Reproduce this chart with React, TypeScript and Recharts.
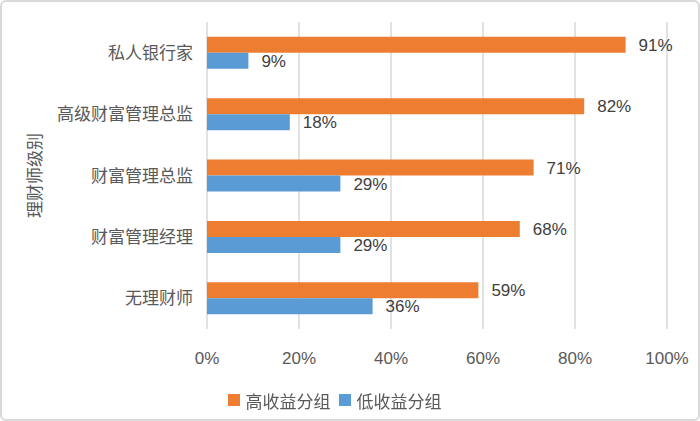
import React from 'react';
import { BarChart, Bar, XAxis, YAxis, CartesianGrid, Legend, LabelList } from 'recharts';

const levels = ['私人银行家', '高级财富管理总监', '财富管理总监', '财富管理经理', '无理财师'];
const highGroup = [91, 82, 71, 68, 59];
const lowGroup = [9, 18, 29, 29, 36];
const xTicks = [0, 20, 40, 60, 80, 100];

const HIGH = '高收益分组';
const LOW = '低收益分组';
const FONT = "'Liberation Sans', 'Noto Sans CJK SC', sans-serif";

const chartData = levels.map((name, i) => ({
    name,
    [HIGH]: highGroup[i],
    [LOW]: lowGroup[i],
}));

const LegendContent = () => (
    <div style={{ display: 'flex', justifyContent: 'center', alignItems: 'center', height: 30, fontFamily: FONT, fontSize: 17, color: '#595959' }}>
        <span style={{ width: 12, height: 12, background: '#ED7D31', display: 'inline-block', marginRight: 6 }} />
        <span style={{ marginRight: 8 }}>{HIGH}</span>
        <span style={{ width: 12, height: 12, background: '#5B9BD5', display: 'inline-block', marginRight: 6 }} />
        <span>{LOW}</span>
    </div>
);

const AxisTitle = (props: any) => {
    const { viewBox } = props;
    const cx = 33;
    const cy = viewBox.y + viewBox.height / 2;
    return (
        <text x={cx} y={cy} transform={`rotate(-90, ${cx}, ${cy})`} textAnchor="middle" dominantBaseline="central"
            fill="#595959" fontSize={17} fontFamily={FONT}>
            理财师级别
        </text>
    );
};

const App: React.FC = () => {
    return (
        <div style={{ position: 'fixed', top: 0, left: 0, width: 700, height: 421, boxSizing: 'border-box', border: '2px solid #d9d9d9', borderRadius: 6, background: '#fff' }}>
            <BarChart
                width={696}
                height={417}
                data={chartData}
                layout="vertical"
                barCategoryGap="24%"
                barGap={0}
                margin={{ top: 20, right: 31, left: 0, bottom: 4 }}
                style={{ fontFamily: FONT }}
            >
                <CartesianGrid horizontal={false} stroke="#d9d9d9" strokeWidth={1.5} />
                <XAxis
                    type="number"
                    domain={[0, 100]}
                    ticks={xTicks}
                    tickFormatter={(v) => `${v}%`}
                    axisLine={false}
                    tickLine={false}
                    tickSize={0}
                    tickMargin={23}
                    height={56}
                    tick={{ fill: '#595959', fontSize: 17 }}
                />
                <YAxis
                    type="category"
                    dataKey="name"
                    width={205}
                    axisLine={false}
                    tickLine={false}
                    tickSize={0}
                    tickMargin={14}
                    tick={{ fill: '#595959', fontSize: 17 }}
                    label={<AxisTitle />}
                />
                <Legend verticalAlign="bottom" content={<LegendContent />} wrapperStyle={{ height: 30 }} />
                <Bar dataKey={HIGH} fill="#ED7D31" isAnimationActive={false}>
                    <LabelList dataKey={HIGH} position="right" offset={13} formatter={(v: any) => `${v}%`}
                        fill="#404040" fontSize={17} />
                </Bar>
                <Bar dataKey={LOW} fill="#5B9BD5" isAnimationActive={false}>
                    <LabelList dataKey={LOW} position="right" offset={13} formatter={(v: any) => `${v}%`}
                        fill="#404040" fontSize={17} />
                </Bar>
            </BarChart>
        </div>
    );
};

export default App;
